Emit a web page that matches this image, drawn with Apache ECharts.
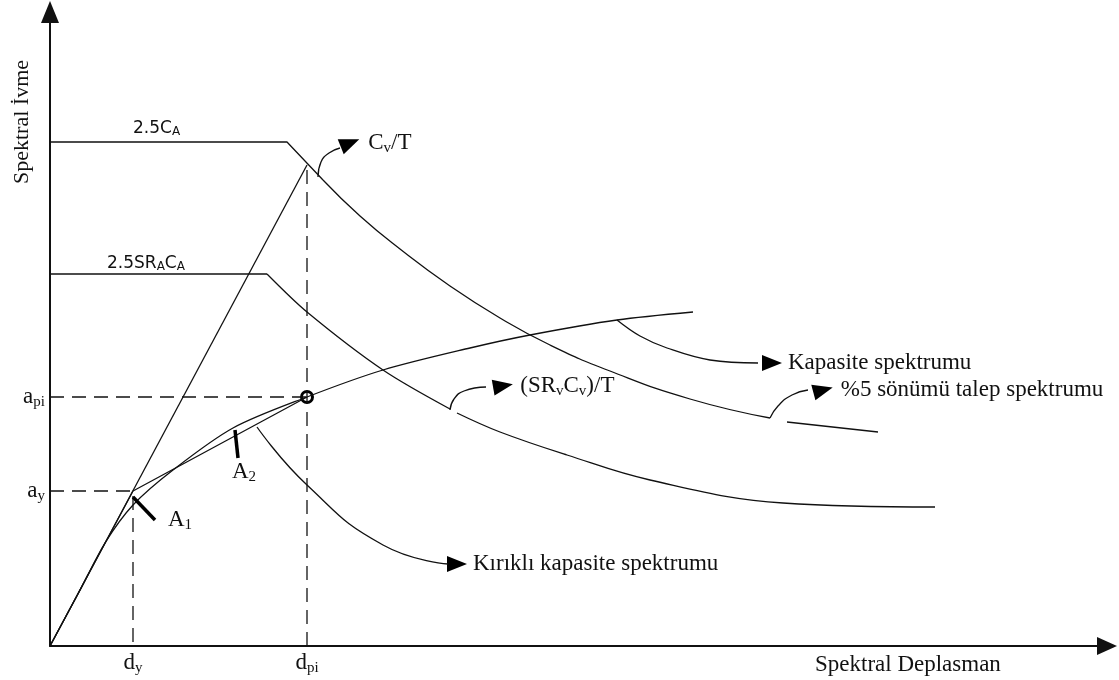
<!DOCTYPE html>
<html>
<head>
<meta charset="utf-8">
<script src="https://cdn.jsdelivr.net/npm/echarts@6/dist/echarts.min.js"></script>
<style>
  html, body { margin: 0; padding: 0; background: #fff; }
  #chart { width: 1119px; height: 680px; }
</style>
</head>
<body>
<div id="chart"></div>
<script>
// spectral displacement (x) / spectral acceleration (y)
const elastic = [[0, 0], [257, 481]]
const demandFlat = [[0, 504], [237, 504], [273, 466]]
const demandCurve = [[273, 466], [310, 430], [350, 397], [400, 360], [450, 328], [500, 301], [560, 275], [640, 247], [720, 228]]
const demandTail = [[737, 224], [828, 214]]
const reducedFlat = [[0, 372], [217, 372]]
const reducedCurve = [[217, 372], [257, 334], [333, 276], [400, 237]]
const reducedTail = [[407, 233], [450, 214], [517, 191], [600, 166], [733, 143], [885, 139]]
const capacity = [[0, 0], [28, 52], [55, 103], [83, 141], [123, 176], [183, 218], [257, 249], [333, 276], [420, 298], [480, 311], [567, 326], [643, 334]]
const bilinear = [[0, 0], [83, 155], [257, 249]]
const yieldPt = [83, 155]
const perfPt = [257, 249]
const markA1 = [[83, 149], [105, 126]]
const markA2 = [[185, 216], [188, 188]]

// annotation arrows (curve + head)
const arrowCv = [[268, 469], [271, 484], [279, 493], [290, 498]]
const arrowSR = [[400, 236], [404, 247], [414, 255], [436, 259]]
const arrowKap = [[567, 326], [590, 310], [617, 298], [660, 286], [708, 283]]
const arrow5 = [[720, 228], [728, 240], [742, 251], [758, 256]]
const arrowKir = [[207, 219], [257, 161], [333, 101], [398, 82]]
const heads = [[300, 503], [453, 260], [722, 283], [773, 256], [407, 82]]
const headTexts = [
  '{n|C}{s|v}{n|/T}',
  '{n|(SR}{s|v}{n|C}{s|v}{n|)/T}',
  '{n|Kapasite spektrumu}',
  '{n|%5 sönümü talep spektrumu}',
  '{n|Kırıklı kapasite spektrumu}'
]
const headTurn = [-68, -80, -90, -75, -90]

// plain text marks
const textAt = [[83, 517], [57, 382], [118, 126], [182, 174]]
const textTexts = ['{a|2.5C}{b|A}', '{a|2.5SR}{b|A}{a|C}{b|A}', '{n|A}{s|1}', '{n|A}{s|2}']

const yTicks = [155, 249]
const xTicks = [83, 257]

const serif = 'Liberation Serif'
const ink = '#111'
const rich = {
  n: { fontFamily: serif, fontSize: 23, color: ink },
  s: { fontFamily: serif, fontSize: 15, color: ink, padding: [11, 0, 0, 0] },
  a: { fontFamily: 'DejaVu Sans', fontSize: 17, color: ink },
  b: { fontFamily: 'DejaVu Sans', fontSize: 12, color: ink, padding: [5, 0, 0, 0] }
}

function line(data, extra) {
  return Object.assign({
    type: 'line', data: data, symbol: 'none', silent: true,
    lineStyle: { color: ink, width: 1.3 }
  }, extra || {})
}
const dashed = { lineStyle: { color: ink, width: 1.3, type: [14, 8] } }

const chart = echarts.init(document.getElementById('chart'))
chart.setOption({
  animation: false,
  backgroundColor: '#fff',
  grid: { left: 50, right: 12, top: 12, bottom: 34 },
  xAxis: {
    type: 'value', min: 0, max: 1057,
    splitLine: { show: false }, axisTick: { show: false },
    axisLine: { lineStyle: { color: ink, width: 2 }, symbol: ['none', 'triangle'], symbolSize: [18, 20] },
    axisLabel: {
      customValues: xTicks, margin: 4,
      formatter: v => v === xTicks[0] ? '{n|d}{s|y}' : '{n|d}{s|pi}',
      rich: rich
    }
  },
  yAxis: {
    type: 'value', min: 0, max: 634,
    splitLine: { show: false }, axisTick: { show: false },
    axisLine: { lineStyle: { color: ink, width: 2 }, symbol: ['none', 'triangle'], symbolSize: [18, 22] },
    axisLabel: {
      customValues: yTicks, margin: 5,
      formatter: v => v === yTicks[0] ? '{n|a}{s|y}' : '{n|a}{s|pi}',
      rich: rich
    }
  },
  graphic: [
    { type: 'text', x: 815, y: 665, style: { text: 'Spektral Deplasman', font: '23px "Liberation Serif"', fill: ink, verticalAlign: 'middle' } },
    { type: 'text', x: 22, y: 122, rotation: Math.PI / 2, style: { text: 'Spektral İvme', font: '22px "Liberation Serif"', fill: ink, align: 'center', verticalAlign: 'middle' } }
  ],
  series: [
    line(elastic),
    line(demandFlat),
    line(demandCurve, { smooth: 0.5 }),
    line(demandTail, { smooth: true }),
    line(reducedFlat),
    line(reducedCurve, { smooth: 0.3 }),
    line(reducedTail, { smooth: 0.4 }),
    line(capacity, { smooth: 0.3 }),
    line(bilinear),
    line([[0, yieldPt[1]], yieldPt, [yieldPt[0], 0]], dashed),
    line([[0, perfPt[1]], perfPt], dashed),
    line([[perfPt[0], 0], elastic[1]], dashed),
    line(markA1, { lineStyle: { color: '#000', width: 3.5 } }),
    line(markA2, { lineStyle: { color: '#000', width: 3.5 } }),
    line(arrowCv, { smooth: 0.5 }),
    line(arrowSR, { smooth: 0.5 }),
    line(arrowKap, { smooth: 0.4 }),
    line(arrow5, { smooth: 0.5 }),
    line(arrowKir, { smooth: 0.5 }),
    {
      type: 'scatter', silent: true, symbol: 'circle', symbolSize: 11,
      itemStyle: { color: 'transparent', borderColor: '#000', borderWidth: 3, opacity: 1 },
      data: [perfPt]
    },
    {
      type: 'scatter', silent: true, symbol: 'triangle', symbolSize: [16, 20],
      itemStyle: { color: '#000', opacity: 1 },
      label: { show: true, position: 'right', distance: 6, rich: rich },
      data: heads.map((p, i) => ({
        value: p, symbolRotate: headTurn[i],
        label: { formatter: headTexts[i] }
      }))
    },
    {
      type: 'scatter', silent: true, symbolSize: 0,
      itemStyle: { opacity: 1 },
      label: { show: true, position: 'right', distance: 0, rich: rich },
      data: textAt.map((p, i) => ({ value: p, label: { formatter: textTexts[i] } }))
    }
  ]
})
</script>
</body>
</html>
